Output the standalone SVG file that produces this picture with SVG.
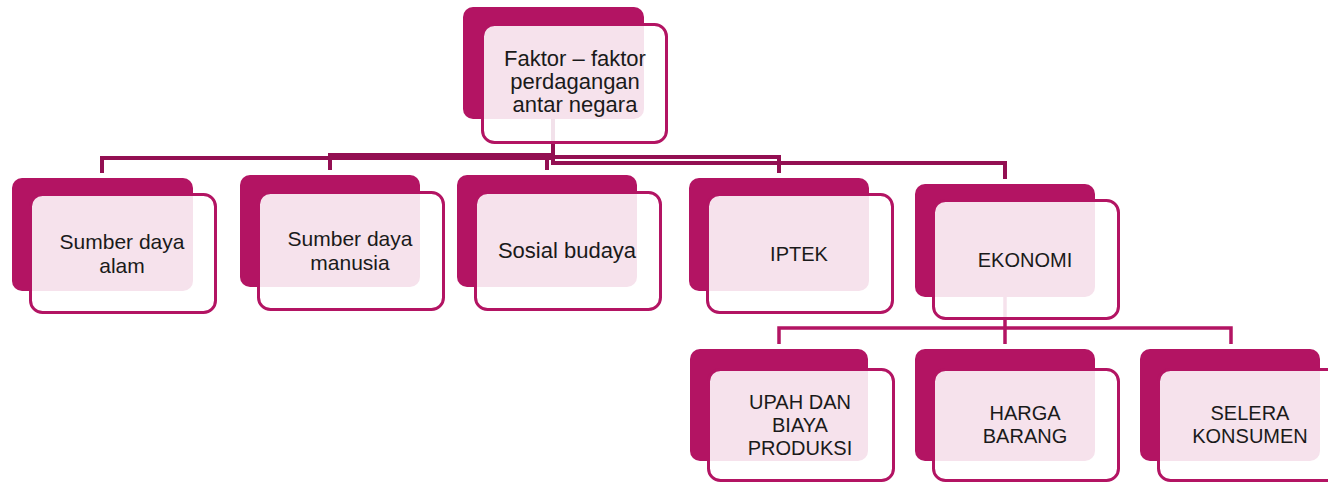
<svg xmlns="http://www.w3.org/2000/svg" width="1328" height="483" viewBox="0 0 1328 483">
<style>
.back{fill:#B31463}
.front{fill:#FFFFFF;fill-opacity:0.88;stroke:#B31463;stroke-width:3}
.c1{fill:none;stroke:#930F52;stroke-width:4}
.c2{fill:none;stroke:#B31463;stroke-width:3.5}
text{font-family:"Liberation Sans",Arial,sans-serif;fill:#1A1A1A;text-anchor:middle}
.t22{font-size:22px}
.t21{font-size:21px}
.t20{font-size:20px}
</style>
<rect width="1328" height="483" fill="#FFFFFF"/>
<g id="connectors">
<path class="c1" d="M553,119 V158 H102 V173"/>
<path class="c1" d="M553,119 V155 H330 V170"/>
<path class="c1" d="M553,119 V157 H547 V170"/>
<path class="c1" d="M553,119 V157 H779 V173"/>
<path class="c1" d="M553,119 V163 H1005 V179"/>
<path class="c2" d="M1005,297 V344"/>
<path class="c2" d="M779,344 V328 H1231 V344"/>
</g>
<g id="node-top">
<rect class="back" x="463" y="7" width="181" height="112" rx="10"/>
<rect class="front" x="482.5" y="24.5" width="184" height="118" rx="12"/>
<text class="t22" x="575" y="66">Faktor – faktor</text>
<text class="t22" x="575" y="89">perdagangan</text>
<text class="t22" x="575" y="112">antar negara</text>
</g>
<g id="node-sda">
<rect class="back" x="12" y="178" width="181" height="113" rx="10"/>
<rect class="front" x="30.5" y="194.5" width="185" height="118" rx="12"/>
<text class="t21" x="122" y="249">Sumber daya</text>
<text class="t21" x="122" y="273">alam</text>
</g>
<g id="node-sdm">
<rect class="back" x="240" y="175" width="180" height="112" rx="10"/>
<rect class="front" x="258.5" y="192.5" width="185" height="117" rx="12"/>
<text class="t21" x="350" y="246">Sumber daya</text>
<text class="t21" x="350" y="270">manusia</text>
</g>
<g id="node-sosial">
<rect class="back" x="457" y="175" width="180" height="112" rx="10"/>
<rect class="front" x="475.5" y="192.5" width="185" height="117" rx="12"/>
<text class="t22" x="567" y="258">Sosial budaya</text>
</g>
<g id="node-iptek">
<rect class="back" x="689" y="178" width="180" height="113" rx="10"/>
<rect class="front" x="707.5" y="194.5" width="185" height="118" rx="12"/>
<text class="t20" x="799" y="261">IPTEK</text>
</g>
<g id="node-ekonomi">
<rect class="back" x="915" y="184" width="180" height="113" rx="10"/>
<rect class="front" x="933.5" y="200.5" width="185" height="118" rx="12"/>
<text class="t20" x="1025" y="267">EKONOMI</text>
</g>
<g id="node-upah">
<rect class="back" x="690" y="349" width="178" height="112" rx="10"/>
<rect class="front" x="708.5" y="369.5" width="185" height="111" rx="12"/>
<text class="t20" x="800" y="409">UPAH DAN</text>
<text class="t20" x="800" y="432">BIAYA</text>
<text class="t20" x="800" y="455">PRODUKSI</text>
</g>
<g id="node-harga">
<rect class="back" x="915" y="349" width="180" height="112" rx="10"/>
<rect class="front" x="933.5" y="369.5" width="185" height="111" rx="12"/>
<text class="t20" x="1025" y="420">HARGA</text>
<text class="t20" x="1025" y="443">BARANG</text>
</g>
<g id="node-selera">
<rect class="back" x="1140" y="349" width="180" height="112" rx="10"/>
<rect class="front" x="1158.5" y="369.5" width="185" height="111" rx="12"/>
<text class="t20" x="1250" y="420">SELERA</text>
<text class="t20" x="1250" y="443">KONSUMEN</text>
</g>
</svg>
